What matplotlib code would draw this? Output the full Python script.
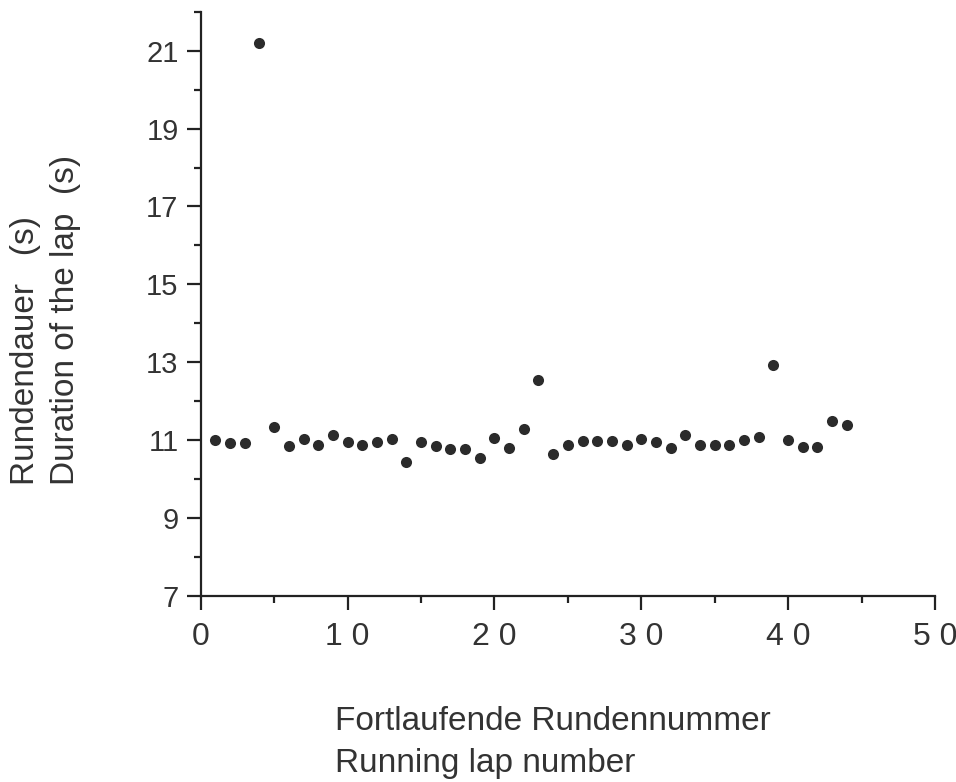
import numpy as np
import matplotlib
matplotlib.use('Agg')
import matplotlib.pyplot as plt
from matplotlib.ticker import MultipleLocator

plt.rcParams['font.family'] = ['Liberation Sans', 'DejaVu Sans']

# lap durations in seconds, laps 1..44
laps = np.arange(1, 45)
durations = [11.0, 10.93, 10.93, 21.2, 11.34, 10.84, 11.03, 10.87, 11.12, 10.94,
             10.87, 10.94, 11.03, 10.45, 10.94, 10.84, 10.77, 10.78, 10.54, 11.06,
             10.80, 11.29, 12.55, 10.64, 10.88, 10.97, 10.97, 10.97, 10.88, 11.04,
             10.95, 10.80, 11.12, 10.87, 10.87, 10.87, 10.99, 11.07, 12.94, 10.99,
             10.82, 10.82, 11.48, 11.40]

x_ticks = [0, 10, 20, 30, 40, 50]
x_ticklabels = ['0', '1 0', '2 0', '3 0', '4 0', '5 0']
y_ticks = [7, 9, 11, 13, 15, 17, 19, 21]

fig = plt.figure(figsize=(9.56, 7.82), dpi=100)
ax = fig.add_axes([0.210, 0.238, 0.768, 0.747])

ax.plot(laps, durations, 'o', color='#2b2b2b', markersize=8, markeredgewidth=0)

ax.set_xlim(0, 50)
ax.set_ylim(7, 22)
ax.set_xticks(x_ticks)
ax.set_xticklabels(x_ticklabels)
ax.set_yticks(y_ticks)
ax.xaxis.set_minor_locator(MultipleLocator(5))
ax.yaxis.set_minor_locator(MultipleLocator(1))

for side in ['top', 'right']:
    ax.spines[side].set_visible(False)
for side in ['left', 'bottom']:
    ax.spines[side].set_linewidth(1.6)
    ax.spines[side].set_color('#222222')

ax.tick_params(which='major', direction='out', length=10, width=1.6,
               colors='#222222', pad=6)
ax.tick_params(which='minor', direction='out', length=5, width=1.6, colors='#222222')
ax.tick_params(axis='x', labelsize=23, pad=9)
ax.tick_params(axis='y', labelsize=21)
for lab in ax.get_xticklabels() + ax.get_yticklabels():
    lab.set_color('#333333')

fig.text(0.027, 0.380, 'Rundendauer   (s)', rotation=90, fontsize=24,
         color='#333333', ha='center', va='bottom')
fig.text(0.069, 0.380, 'Duration of the lap  (s)', rotation=90, fontsize=24,
         color='#333333', ha='center', va='bottom')

fig.text(0.350, 1 - 730 / 782, 'Fortlaufende Rundennummer',
         fontsize=24, color='#333333', ha='left', va='baseline')
fig.text(0.350, 1 - 772 / 782, 'Running lap number',
         fontsize=24, color='#333333', ha='left', va='baseline')

fig.savefig('out.png', dpi=100, facecolor='white')
